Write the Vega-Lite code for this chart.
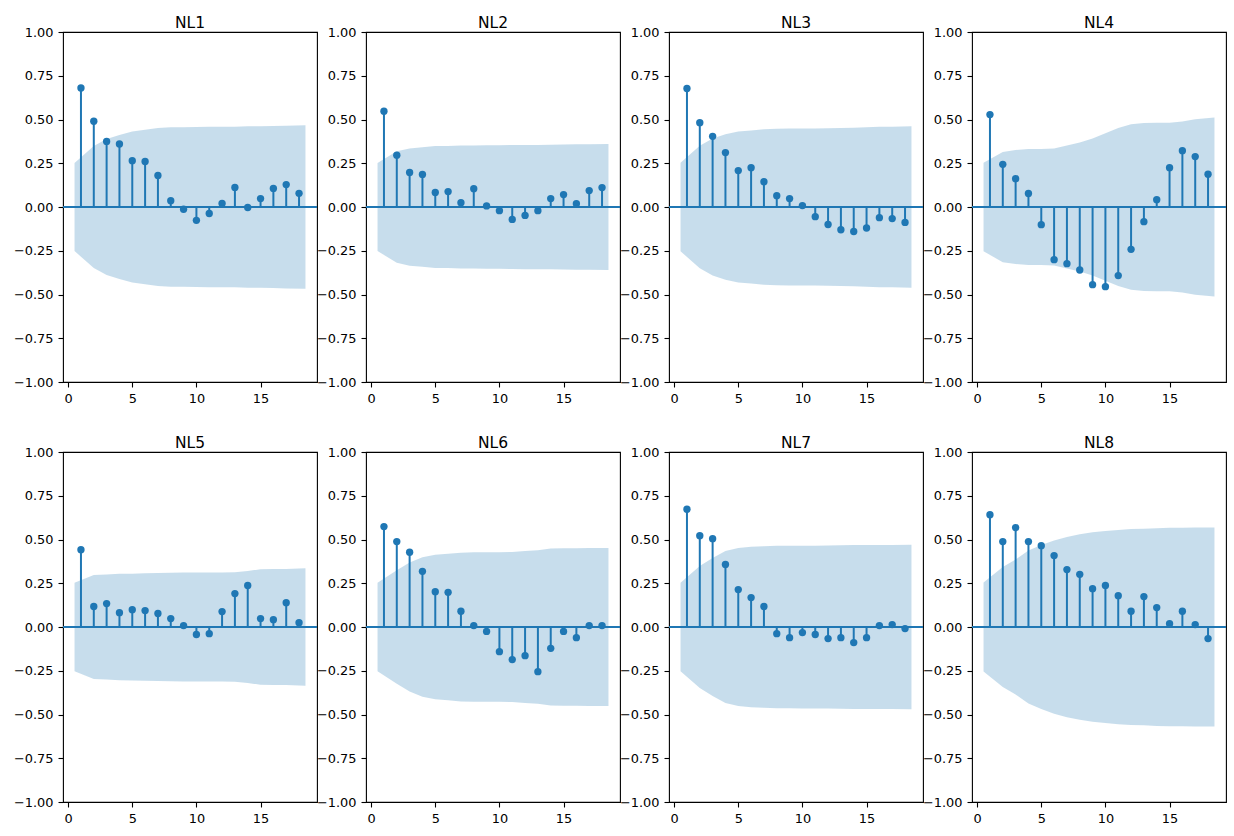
{
 "$schema": "https://vega.github.io/schema/vega-lite/v6.json",
 "padding": {"left": 12, "top": 14, "right": 5, "bottom": 3},
 "background": "white",
 "datasets": {
  "acf": [
   {"p":"NL1","lag":1,"bx":0.5,"r":0.68,"hi":0.252,"lo":-0.252},
   {"p":"NL1","lag":2,"bx":2,"r":0.49,"hi":0.348,"lo":-0.348},
   {"p":"NL1","lag":3,"bx":3,"r":0.375,"hi":0.389,"lo":-0.389},
   {"p":"NL1","lag":4,"bx":4,"r":0.36,"hi":0.412,"lo":-0.412},
   {"p":"NL1","lag":5,"bx":5,"r":0.265,"hi":0.431,"lo":-0.431},
   {"p":"NL1","lag":6,"bx":6,"r":0.26,"hi":0.441,"lo":-0.441},
   {"p":"NL1","lag":7,"bx":7,"r":0.18,"hi":0.451,"lo":-0.451},
   {"p":"NL1","lag":8,"bx":8,"r":0.036,"hi":0.456,"lo":-0.456},
   {"p":"NL1","lag":9,"bx":9,"r":-0.013,"hi":0.456,"lo":-0.456},
   {"p":"NL1","lag":10,"bx":10,"r":-0.076,"hi":0.457,"lo":-0.457},
   {"p":"NL1","lag":11,"bx":11,"r":-0.037,"hi":0.458,"lo":-0.458},
   {"p":"NL1","lag":12,"bx":12,"r":0.02,"hi":0.459,"lo":-0.459},
   {"p":"NL1","lag":13,"bx":13,"r":0.112,"hi":0.459,"lo":-0.459},
   {"p":"NL1","lag":14,"bx":14,"r":-0.003,"hi":0.461,"lo":-0.461},
   {"p":"NL1","lag":15,"bx":15,"r":0.048,"hi":0.462,"lo":-0.462},
   {"p":"NL1","lag":16,"bx":16,"r":0.106,"hi":0.463,"lo":-0.463},
   {"p":"NL1","lag":17,"bx":17,"r":0.128,"hi":0.465,"lo":-0.465},
   {"p":"NL1","lag":18,"bx":18.5,"r":0.078,"hi":0.467,"lo":-0.467},

   {"p":"NL2","lag":1,"bx":0.5,"r":0.547,"hi":0.252,"lo":-0.252},
   {"p":"NL2","lag":2,"bx":2,"r":0.296,"hi":0.318,"lo":-0.318},
   {"p":"NL2","lag":3,"bx":3,"r":0.197,"hi":0.335,"lo":-0.335},
   {"p":"NL2","lag":4,"bx":4,"r":0.186,"hi":0.342,"lo":-0.342},
   {"p":"NL2","lag":5,"bx":5,"r":0.083,"hi":0.348,"lo":-0.348},
   {"p":"NL2","lag":6,"bx":6,"r":0.088,"hi":0.349,"lo":-0.349},
   {"p":"NL2","lag":7,"bx":7,"r":0.025,"hi":0.351,"lo":-0.351},
   {"p":"NL2","lag":8,"bx":8,"r":0.105,"hi":0.351,"lo":-0.351},
   {"p":"NL2","lag":9,"bx":9,"r":0.006,"hi":0.353,"lo":-0.353},
   {"p":"NL2","lag":10,"bx":10,"r":-0.021,"hi":0.353,"lo":-0.353},
   {"p":"NL2","lag":11,"bx":11,"r":-0.071,"hi":0.354,"lo":-0.354},
   {"p":"NL2","lag":12,"bx":12,"r":-0.048,"hi":0.355,"lo":-0.355},
   {"p":"NL2","lag":13,"bx":13,"r":-0.021,"hi":0.355,"lo":-0.355},
   {"p":"NL2","lag":14,"bx":14,"r":0.048,"hi":0.356,"lo":-0.356},
   {"p":"NL2","lag":15,"bx":15,"r":0.071,"hi":0.357,"lo":-0.357},
   {"p":"NL2","lag":16,"bx":16,"r":0.019,"hi":0.358,"lo":-0.358},
   {"p":"NL2","lag":17,"bx":17,"r":0.094,"hi":0.358,"lo":-0.358},
   {"p":"NL2","lag":18,"bx":18.5,"r":0.111,"hi":0.36,"lo":-0.36},

   {"p":"NL3","lag":1,"bx":0.5,"r":0.677,"hi":0.253,"lo":-0.253},
   {"p":"NL3","lag":2,"bx":2,"r":0.482,"hi":0.35,"lo":-0.35},
   {"p":"NL3","lag":3,"bx":3,"r":0.404,"hi":0.391,"lo":-0.391},
   {"p":"NL3","lag":4,"bx":4,"r":0.311,"hi":0.416,"lo":-0.416},
   {"p":"NL3","lag":5,"bx":5,"r":0.208,"hi":0.431,"lo":-0.431},
   {"p":"NL3","lag":6,"bx":6,"r":0.225,"hi":0.437,"lo":-0.437},
   {"p":"NL3","lag":7,"bx":7,"r":0.145,"hi":0.444,"lo":-0.444},
   {"p":"NL3","lag":8,"bx":8,"r":0.065,"hi":0.447,"lo":-0.447},
   {"p":"NL3","lag":9,"bx":9,"r":0.048,"hi":0.448,"lo":-0.448},
   {"p":"NL3","lag":10,"bx":10,"r":0.008,"hi":0.448,"lo":-0.448},
   {"p":"NL3","lag":11,"bx":11,"r":-0.055,"hi":0.448,"lo":-0.448},
   {"p":"NL3","lag":12,"bx":12,"r":-0.1,"hi":0.45,"lo":-0.45},
   {"p":"NL3","lag":13,"bx":13,"r":-0.13,"hi":0.451,"lo":-0.451},
   {"p":"NL3","lag":14,"bx":14,"r":-0.14,"hi":0.453,"lo":-0.453},
   {"p":"NL3","lag":15,"bx":15,"r":-0.12,"hi":0.456,"lo":-0.456},
   {"p":"NL3","lag":16,"bx":16,"r":-0.061,"hi":0.458,"lo":-0.458},
   {"p":"NL3","lag":17,"bx":17,"r":-0.066,"hi":0.459,"lo":-0.459},
   {"p":"NL3","lag":18,"bx":18.5,"r":-0.088,"hi":0.461,"lo":-0.461},

   {"p":"NL4","lag":1,"bx":0.5,"r":0.528,"hi":0.253,"lo":-0.253},
   {"p":"NL4","lag":2,"bx":2,"r":0.244,"hi":0.315,"lo":-0.315},
   {"p":"NL4","lag":3,"bx":3,"r":0.162,"hi":0.326,"lo":-0.326},
   {"p":"NL4","lag":4,"bx":4,"r":0.077,"hi":0.331,"lo":-0.331},
   {"p":"NL4","lag":5,"bx":5,"r":-0.101,"hi":0.332,"lo":-0.332},
   {"p":"NL4","lag":6,"bx":6,"r":-0.301,"hi":0.334,"lo":-0.334},
   {"p":"NL4","lag":7,"bx":7,"r":-0.324,"hi":0.351,"lo":-0.351},
   {"p":"NL4","lag":8,"bx":8,"r":-0.36,"hi":0.369,"lo":-0.369},
   {"p":"NL4","lag":9,"bx":9,"r":-0.444,"hi":0.391,"lo":-0.391},
   {"p":"NL4","lag":10,"bx":10,"r":-0.455,"hi":0.422,"lo":-0.422},
   {"p":"NL4","lag":11,"bx":11,"r":-0.392,"hi":0.452,"lo":-0.452},
   {"p":"NL4","lag":12,"bx":12,"r":-0.242,"hi":0.473,"lo":-0.473},
   {"p":"NL4","lag":13,"bx":13,"r":-0.084,"hi":0.48,"lo":-0.48},
   {"p":"NL4","lag":14,"bx":14,"r":0.042,"hi":0.481,"lo":-0.481},
   {"p":"NL4","lag":15,"bx":15,"r":0.225,"hi":0.481,"lo":-0.481},
   {"p":"NL4","lag":16,"bx":16,"r":0.322,"hi":0.488,"lo":-0.488},
   {"p":"NL4","lag":17,"bx":17,"r":0.288,"hi":0.501,"lo":-0.501},
   {"p":"NL4","lag":18,"bx":18.5,"r":0.187,"hi":0.511,"lo":-0.511},

   {"p":"NL5","lag":1,"bx":0.5,"r":0.442,"hi":0.253,"lo":-0.253},
   {"p":"NL5","lag":2,"bx":2,"r":0.117,"hi":0.297,"lo":-0.297},
   {"p":"NL5","lag":3,"bx":3,"r":0.134,"hi":0.3,"lo":-0.3},
   {"p":"NL5","lag":4,"bx":4,"r":0.082,"hi":0.304,"lo":-0.304},
   {"p":"NL5","lag":5,"bx":5,"r":0.099,"hi":0.305,"lo":-0.305},
   {"p":"NL5","lag":6,"bx":6,"r":0.094,"hi":0.307,"lo":-0.307},
   {"p":"NL5","lag":7,"bx":7,"r":0.077,"hi":0.309,"lo":-0.309},
   {"p":"NL5","lag":8,"bx":8,"r":0.048,"hi":0.31,"lo":-0.31},
   {"p":"NL5","lag":9,"bx":9,"r":0.008,"hi":0.311,"lo":-0.311},
   {"p":"NL5","lag":10,"bx":10,"r":-0.043,"hi":0.311,"lo":-0.311},
   {"p":"NL5","lag":11,"bx":11,"r":-0.038,"hi":0.312,"lo":-0.312},
   {"p":"NL5","lag":12,"bx":12,"r":0.088,"hi":0.312,"lo":-0.312},
   {"p":"NL5","lag":13,"bx":13,"r":0.191,"hi":0.313,"lo":-0.313},
   {"p":"NL5","lag":14,"bx":14,"r":0.237,"hi":0.32,"lo":-0.32},
   {"p":"NL5","lag":15,"bx":15,"r":0.048,"hi":0.33,"lo":-0.33},
   {"p":"NL5","lag":16,"bx":16,"r":0.042,"hi":0.331,"lo":-0.331},
   {"p":"NL5","lag":17,"bx":17,"r":0.139,"hi":0.331,"lo":-0.331},
   {"p":"NL5","lag":18,"bx":18.5,"r":0.025,"hi":0.336,"lo":-0.336},

   {"p":"NL6","lag":1,"bx":0.5,"r":0.574,"hi":0.253,"lo":-0.253},
   {"p":"NL6","lag":2,"bx":2,"r":0.488,"hi":0.324,"lo":-0.324},
   {"p":"NL6","lag":3,"bx":3,"r":0.427,"hi":0.368,"lo":-0.368},
   {"p":"NL6","lag":4,"bx":4,"r":0.318,"hi":0.398,"lo":-0.398},
   {"p":"NL6","lag":5,"bx":5,"r":0.202,"hi":0.413,"lo":-0.413},
   {"p":"NL6","lag":6,"bx":6,"r":0.198,"hi":0.419,"lo":-0.419},
   {"p":"NL6","lag":7,"bx":7,"r":0.09,"hi":0.425,"lo":-0.425},
   {"p":"NL6","lag":8,"bx":8,"r":0.008,"hi":0.427,"lo":-0.427},
   {"p":"NL6","lag":9,"bx":9,"r":-0.025,"hi":0.427,"lo":-0.427},
   {"p":"NL6","lag":10,"bx":10,"r":-0.141,"hi":0.427,"lo":-0.427},
   {"p":"NL6","lag":11,"bx":11,"r":-0.186,"hi":0.429,"lo":-0.429},
   {"p":"NL6","lag":12,"bx":12,"r":-0.164,"hi":0.434,"lo":-0.434},
   {"p":"NL6","lag":13,"bx":13,"r":-0.255,"hi":0.438,"lo":-0.438},
   {"p":"NL6","lag":14,"bx":14,"r":-0.122,"hi":0.448,"lo":-0.448},
   {"p":"NL6","lag":15,"bx":15,"r":-0.025,"hi":0.45,"lo":-0.45},
   {"p":"NL6","lag":16,"bx":16,"r":-0.061,"hi":0.45,"lo":-0.45},
   {"p":"NL6","lag":17,"bx":17,"r":0.008,"hi":0.451,"lo":-0.451},
   {"p":"NL6","lag":18,"bx":18.5,"r":0.008,"hi":0.451,"lo":-0.451},

   {"p":"NL7","lag":1,"bx":0.5,"r":0.673,"hi":0.253,"lo":-0.253},
   {"p":"NL7","lag":2,"bx":2,"r":0.522,"hi":0.348,"lo":-0.348},
   {"p":"NL7","lag":3,"bx":3,"r":0.505,"hi":0.394,"lo":-0.394},
   {"p":"NL7","lag":4,"bx":4,"r":0.357,"hi":0.434,"lo":-0.434},
   {"p":"NL7","lag":5,"bx":5,"r":0.214,"hi":0.452,"lo":-0.452},
   {"p":"NL7","lag":6,"bx":6,"r":0.168,"hi":0.458,"lo":-0.458},
   {"p":"NL7","lag":7,"bx":7,"r":0.117,"hi":0.462,"lo":-0.462},
   {"p":"NL7","lag":8,"bx":8,"r":-0.038,"hi":0.464,"lo":-0.464},
   {"p":"NL7","lag":9,"bx":9,"r":-0.061,"hi":0.464,"lo":-0.464},
   {"p":"NL7","lag":10,"bx":10,"r":-0.032,"hi":0.465,"lo":-0.465},
   {"p":"NL7","lag":11,"bx":11,"r":-0.043,"hi":0.465,"lo":-0.465},
   {"p":"NL7","lag":12,"bx":12,"r":-0.066,"hi":0.466,"lo":-0.466},
   {"p":"NL7","lag":13,"bx":13,"r":-0.061,"hi":0.467,"lo":-0.467},
   {"p":"NL7","lag":14,"bx":14,"r":-0.089,"hi":0.468,"lo":-0.468},
   {"p":"NL7","lag":15,"bx":15,"r":-0.061,"hi":0.469,"lo":-0.469},
   {"p":"NL7","lag":16,"bx":16,"r":0.008,"hi":0.469,"lo":-0.469},
   {"p":"NL7","lag":17,"bx":17,"r":0.014,"hi":0.469,"lo":-0.469},
   {"p":"NL7","lag":18,"bx":18.5,"r":-0.009,"hi":0.47,"lo":-0.47},

   {"p":"NL8","lag":1,"bx":0.5,"r":0.642,"hi":0.254,"lo":-0.254},
   {"p":"NL8","lag":2,"bx":2,"r":0.488,"hi":0.343,"lo":-0.343},
   {"p":"NL8","lag":3,"bx":3,"r":0.568,"hi":0.386,"lo":-0.386},
   {"p":"NL8","lag":4,"bx":4,"r":0.488,"hi":0.437,"lo":-0.437},
   {"p":"NL8","lag":5,"bx":5,"r":0.465,"hi":0.468,"lo":-0.468},
   {"p":"NL8","lag":6,"bx":6,"r":0.408,"hi":0.495,"lo":-0.495},
   {"p":"NL8","lag":7,"bx":7,"r":0.328,"hi":0.515,"lo":-0.515},
   {"p":"NL8","lag":8,"bx":8,"r":0.301,"hi":0.53,"lo":-0.53},
   {"p":"NL8","lag":9,"bx":9,"r":0.219,"hi":0.541,"lo":-0.541},
   {"p":"NL8","lag":10,"bx":10,"r":0.237,"hi":0.549,"lo":-0.549},
   {"p":"NL8","lag":11,"bx":11,"r":0.179,"hi":0.555,"lo":-0.555},
   {"p":"NL8","lag":12,"bx":12,"r":0.09,"hi":0.56,"lo":-0.56},
   {"p":"NL8","lag":13,"bx":13,"r":0.174,"hi":0.562,"lo":-0.562},
   {"p":"NL8","lag":14,"bx":14,"r":0.111,"hi":0.565,"lo":-0.565},
   {"p":"NL8","lag":15,"bx":15,"r":0.019,"hi":0.567,"lo":-0.567},
   {"p":"NL8","lag":16,"bx":16,"r":0.09,"hi":0.567,"lo":-0.567},
   {"p":"NL8","lag":17,"bx":17,"r":0.014,"hi":0.568,"lo":-0.568},
   {"p":"NL8","lag":18,"bx":18.5,"r":-0.066,"hi":0.568,"lo":-0.568}
  ]
 },
 "data": {"name": "acf"},
 "facet": {"field": "p", "type": "nominal", "header": {"title": null, "labelFontSize": 15.5, "labelFont": "DejaVu Sans", "labelColor": "black", "labelPadding": -5}},
 "columns": 4,
 "spacing": {"row": 70, "column": 49},
 "bounds": "flush",
 "resolve": {"axis": {"x": "independent", "y": "independent"}},
 "spec": {
  "width": 254,
  "height": 350,
  "layer": [
   {"mark": {"type": "area", "color": "#1f77b4", "opacity": 0.25},
    "encoding": {
     "x": {"field": "bx", "type": "quantitative", "title": null, "scale": {"domain": [-0.4, 19.4], "nice": false, "zero": false}, "axis": {"values": [0, 5, 10, 15], "format": "d"}},
     "y": {"field": "hi", "type": "quantitative", "title": null, "scale": {"domain": [-1, 1], "nice": false}, "axis": {"values": [-1, -0.75, -0.5, -0.25, 0, 0.25, 0.5, 0.75, 1], "format": ".2f", "labelExpr": "replace(datum.label, '-', '−')"}},
     "y2": {"field": "lo"}
    }},
   {"mark": {"type": "rule", "color": "#1f77b4", "strokeWidth": 2},
    "encoding": {"y": {"datum": 0}}},
   {"mark": {"type": "rule", "color": "#1f77b4", "strokeWidth": 2},
    "encoding": {
     "x": {"field": "lag", "type": "quantitative"},
     "y": {"field": "r", "type": "quantitative"},
     "y2": {"datum": 0}
    }},
   {"mark": {"type": "circle", "color": "#1f77b4", "opacity": 1, "size": 54},
    "encoding": {
     "x": {"field": "lag", "type": "quantitative"},
     "y": {"field": "r", "type": "quantitative"}
    }}
  ]
 },
 "config": {
  "view": {"stroke": "black", "strokeWidth": 1.1},
  "axis": {"grid": false, "domain": false, "tickColor": "black", "tickSize": 5, "tickWidth": 1.1, "labelFont": "DejaVu Sans", "labelFontSize": 12.9, "labelColor": "black", "labelPadding": 5}
 }
}
